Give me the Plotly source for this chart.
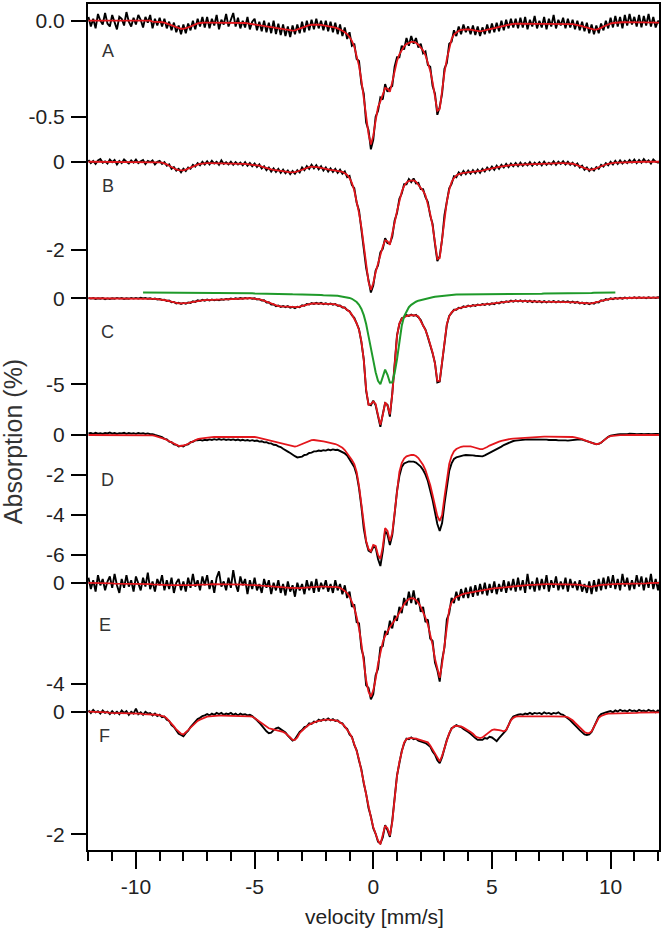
import numpy as np
import plotly.graph_objects as go

# velocity channels (mm/s), 0.1 mm/s step
velocity = np.round(np.arange(-12.0, 12.15, 0.1), 1)

A_data = [
 0.02,-0.03,0.01,-0.04,0.035,0.0,-0.02,0.04,-0.015,-0.03,
 0.03,-0.01,-0.045,0.02,0.01,-0.025,0.045,-0.005,-0.03,0.015,
 -0.02,0.03,0.005,-0.035,0.02,-0.01,0.03,-0.04,0.01,-0.025,
 0.015,-0.03,0.01,-0.04,-0.005,-0.05,-0.01,-0.06,-0.025,-0.07,
 -0.02,-0.065,-0.015,-0.05,0.0,-0.045,0.01,-0.03,0.02,-0.035,
 0.02,-0.04,0.01,-0.025,0.03,-0.045,0.005,-0.02,0.035,-0.03,
 0.01,0.04,-0.03,0.015,-0.04,0.0,-0.035,0.02,-0.045,-0.005,
 0.01,-0.05,-0.005,-0.055,0.0,-0.06,-0.01,-0.065,0.0,-0.07,
 -0.015,-0.075,-0.02,-0.08,-0.03,-0.085,-0.025,-0.07,-0.02,-0.065,
 -0.005,-0.06,0.0,-0.05,0.005,-0.045,0.01,-0.04,0.0,-0.05,
 0.0,-0.055,-0.005,-0.06,-0.01,-0.07,-0.02,-0.08,-0.035,-0.095,
 -0.06,-0.13,-0.12,-0.2,-0.21,-0.33,-0.38,-0.53,-0.57,-0.67,
 -0.62,-0.5,-0.47,-0.4,-0.41,-0.33,-0.37,-0.35,-0.34,-0.24,
 -0.19,-0.19,-0.13,-0.15,-0.09,-0.13,-0.08,-0.12,-0.09,-0.14,
 -0.12,-0.17,-0.16,-0.23,-0.24,-0.34,-0.38,-0.49,-0.45,-0.38,
 -0.25,-0.22,-0.12,-0.11,-0.05,-0.08,-0.03,-0.07,-0.02,-0.06,
 -0.03,-0.07,-0.025,-0.075,-0.03,-0.08,-0.035,-0.07,-0.02,-0.065,
 -0.015,-0.06,-0.01,-0.055,0.0,-0.05,0.005,-0.04,0.01,-0.035,
 0.01,-0.04,0.015,-0.035,0.02,-0.045,0.005,-0.03,0.025,-0.04,
 0.0,-0.035,0.02,-0.045,0.01,-0.03,0.03,-0.04,0.005,-0.025,
 0.015,-0.04,0.01,-0.035,0.005,-0.045,0.0,-0.05,-0.005,-0.055,
 -0.01,-0.065,-0.02,-0.07,-0.025,-0.065,-0.015,-0.05,0.0,-0.04,
 0.015,-0.035,0.025,-0.03,0.02,-0.04,0.03,-0.025,0.035,-0.02,
 0.02,-0.03,0.03,-0.035,0.025,-0.025,0.035,-0.03,0.02,-0.035,
 0.0,-0.02]

A_fit = [
 0,0,0,0,0,0,0,0,0,0,
 0,0,0,0,0,0,0,0,0,0,
 0,0,0,0,0,0,0,-0.005,-0.005,-0.005,
 -0.005,-0.008,-0.01,-0.015,-0.02,-0.025,-0.03,-0.035,-0.04,-0.042,
 -0.042,-0.04,-0.035,-0.03,-0.024,-0.018,-0.014,-0.012,-0.01,-0.01,
 -0.01,-0.01,-0.01,-0.01,-0.01,-0.01,-0.01,-0.01,-0.01,-0.01,
 -0.01,-0.01,-0.01,-0.01,-0.01,-0.01,-0.012,-0.014,-0.016,-0.018,
 -0.02,-0.022,-0.024,-0.026,-0.028,-0.03,-0.032,-0.034,-0.036,-0.038,
 -0.04,-0.042,-0.045,-0.048,-0.05,-0.052,-0.052,-0.05,-0.045,-0.04,
 -0.035,-0.03,-0.026,-0.023,-0.021,-0.02,-0.02,-0.021,-0.022,-0.024,
 -0.026,-0.028,-0.03,-0.033,-0.036,-0.04,-0.045,-0.052,-0.06,-0.07,
 -0.085,-0.105,-0.135,-0.18,-0.235,-0.31,-0.4,-0.5,-0.59,-0.645,
 -0.6,-0.52,-0.45,-0.42,-0.39,-0.35,-0.355,-0.37,-0.32,-0.26,
 -0.21,-0.175,-0.15,-0.133,-0.122,-0.115,-0.11,-0.11,-0.115,-0.125,
 -0.138,-0.155,-0.18,-0.215,-0.26,-0.32,-0.4,-0.47,-0.46,-0.36,
 -0.27,-0.2,-0.14,-0.095,-0.072,-0.06,-0.052,-0.048,-0.046,-0.045,
 -0.045,-0.046,-0.048,-0.05,-0.053,-0.055,-0.053,-0.05,-0.046,-0.042,
 -0.04,-0.037,-0.034,-0.031,-0.028,-0.025,-0.022,-0.02,-0.018,-0.016,
 -0.015,-0.015,-0.015,-0.015,-0.015,-0.015,-0.015,-0.015,-0.015,-0.015,
 -0.015,-0.015,-0.015,-0.015,-0.015,-0.015,-0.015,-0.015,-0.015,-0.015,
 -0.015,-0.015,-0.016,-0.017,-0.018,-0.02,-0.022,-0.025,-0.028,-0.032,
 -0.036,-0.04,-0.044,-0.046,-0.046,-0.043,-0.037,-0.03,-0.024,-0.019,
 -0.015,-0.012,-0.01,-0.009,-0.008,-0.008,-0.007,-0.007,-0.007,-0.007,
 -0.007,-0.007,-0.007,-0.008,-0.008,-0.008,-0.009,-0.009,-0.01,-0.01,
 -0.01,-0.01]

B_data = [
 0.04,-0.03,0.02,-0.05,0.03,0.06,-0.02,0.01,-0.04,0.05,
 -0.01,0.04,-0.06,0.02,-0.03,0.05,0.0,-0.04,0.03,-0.02,
 0.05,-0.03,0.01,0.04,-0.05,0.02,-0.01,0.03,-0.06,0.0,
 0.02,-0.05,-0.01,-0.09,-0.06,-0.16,-0.12,-0.2,-0.16,-0.24,
 -0.16,-0.21,-0.13,-0.16,-0.07,-0.11,-0.03,-0.08,0.0,-0.06,
 0.01,-0.06,0.02,-0.04,0.0,-0.07,0.03,-0.05,-0.01,-0.06,
 0.0,-0.07,-0.01,-0.06,-0.02,-0.08,-0.01,-0.09,-0.03,-0.1,
 -0.04,-0.12,-0.06,-0.15,-0.1,-0.19,-0.13,-0.22,-0.15,-0.23,
 -0.16,-0.25,-0.18,-0.26,-0.2,-0.28,-0.21,-0.27,-0.19,-0.24,
 -0.13,-0.19,-0.1,-0.16,-0.07,-0.15,-0.08,-0.17,-0.1,-0.2,
 -0.13,-0.22,-0.15,-0.23,-0.16,-0.25,-0.18,-0.27,-0.22,-0.35,
 -0.32,-0.53,-0.6,-0.93,-1.1,-1.53,-1.85,-2.4,-2.68,-2.96,
 -2.8,-2.46,-2.35,-2.05,-1.97,-1.73,-1.84,-1.85,-1.7,-1.33,
 -1.16,-0.84,-0.72,-0.51,-0.51,-0.39,-0.46,-0.38,-0.49,-0.48,
 -0.62,-0.62,-0.8,-0.91,-1.22,-1.41,-1.86,-2.25,-2.14,-1.76,
 -1.21,-0.94,-0.6,-0.5,-0.33,-0.35,-0.24,-0.3,-0.21,-0.28,
 -0.2,-0.27,-0.19,-0.26,-0.18,-0.25,-0.16,-0.22,-0.13,-0.19,
 -0.11,-0.18,-0.09,-0.16,-0.07,-0.13,-0.05,-0.12,-0.04,-0.1,
 -0.03,-0.1,-0.02,-0.09,-0.03,-0.08,-0.01,-0.09,-0.02,-0.07,
 -0.01,-0.08,0.0,-0.07,-0.02,-0.06,0.01,-0.07,0.0,-0.05,
 0.01,-0.06,0.0,-0.07,-0.02,-0.09,-0.04,-0.13,-0.09,-0.18,
 -0.13,-0.21,-0.15,-0.2,-0.12,-0.16,-0.07,-0.11,-0.03,-0.08,
 0.0,-0.06,0.02,-0.05,0.03,-0.04,0.02,-0.03,0.04,-0.02,
 0.05,-0.03,0.04,-0.02,0.06,-0.01,0.03,-0.04,0.05,0.0,
 -0.02,0.03]

B_fit = [
 0,0,0,0,0,0,0,0,0,0,
 0,0,0,0,0,0,0,0,0,0,
 0,0,0,0,0,0,0,0,-0.01,-0.01,
 -0.015,-0.02,-0.035,-0.06,-0.09,-0.12,-0.15,-0.175,-0.19,-0.2,
 -0.195,-0.18,-0.155,-0.13,-0.1,-0.08,-0.065,-0.05,-0.04,-0.035,
 -0.03,-0.03,-0.03,-0.03,-0.03,-0.03,-0.03,-0.03,-0.03,-0.03,
 -0.03,-0.032,-0.035,-0.038,-0.042,-0.046,-0.05,-0.055,-0.06,-0.065,
 -0.07,-0.08,-0.09,-0.11,-0.13,-0.15,-0.165,-0.175,-0.185,-0.19,
 -0.2,-0.205,-0.21,-0.22,-0.23,-0.24,-0.24,-0.235,-0.22,-0.2,
 -0.17,-0.145,-0.13,-0.12,-0.11,-0.11,-0.115,-0.125,-0.14,-0.155,
 -0.17,-0.18,-0.185,-0.19,-0.2,-0.205,-0.215,-0.23,-0.26,-0.3,
 -0.37,-0.48,-0.65,-0.88,-1.16,-1.48,-1.9,-2.35,-2.72,-2.9,
 -2.75,-2.5,-2.3,-2.1,-1.92,-1.78,-1.8,-1.88,-1.66,-1.38,
 -1.12,-0.88,-0.68,-0.55,-0.47,-0.43,-0.42,-0.42,-0.45,-0.52,
 -0.58,-0.66,-0.76,-0.95,-1.18,-1.45,-1.82,-2.2,-2.18,-1.72,
 -1.25,-0.9,-0.64,-0.46,-0.37,-0.31,-0.28,-0.26,-0.25,-0.245,
 -0.24,-0.235,-0.23,-0.225,-0.22,-0.21,-0.2,-0.185,-0.17,-0.155,
 -0.145,-0.135,-0.125,-0.115,-0.105,-0.095,-0.088,-0.082,-0.077,-0.073,
 -0.07,-0.067,-0.064,-0.061,-0.058,-0.055,-0.052,-0.05,-0.048,-0.046,
 -0.044,-0.042,-0.04,-0.038,-0.036,-0.034,-0.032,-0.03,-0.03,-0.03,
 -0.03,-0.03,-0.03,-0.035,-0.045,-0.06,-0.075,-0.095,-0.12,-0.145,
 -0.165,-0.178,-0.18,-0.17,-0.15,-0.125,-0.1,-0.08,-0.062,-0.048,
 -0.035,-0.028,-0.022,-0.018,-0.015,-0.012,-0.01,-0.008,-0.006,-0.005,
 -0.004,-0.003,-0.002,-0.001,0,0,0,0,0,0,
 0,0]

C_data = [
 0.02,-0.02,0.01,-0.04,0.0,-0.03,0.01,-0.05,-0.01,-0.04,
 0.0,-0.03,0.02,-0.02,0.01,-0.04,0.0,-0.03,0.02,-0.02,
 0.02,-0.02,0.03,-0.01,0.02,-0.03,0.0,-0.05,-0.02,-0.07,
 -0.04,-0.1,-0.08,-0.16,-0.13,-0.23,-0.21,-0.3,-0.26,-0.33,
 -0.27,-0.32,-0.24,-0.27,-0.18,-0.21,-0.12,-0.16,-0.09,-0.14,
 -0.08,-0.13,-0.07,-0.12,-0.08,-0.11,-0.06,-0.09,-0.04,-0.07,
 -0.02,-0.05,0.0,-0.04,0.01,-0.03,0.02,-0.02,0.02,-0.03,
 0.0,-0.07,-0.05,-0.13,-0.12,-0.24,-0.23,-0.36,-0.35,-0.46,
 -0.42,-0.5,-0.45,-0.52,-0.46,-0.55,-0.5,-0.57,-0.49,-0.52,
 -0.41,-0.44,-0.33,-0.36,-0.28,-0.33,-0.27,-0.33,-0.27,-0.34,
 -0.29,-0.36,-0.3,-0.37,-0.33,-0.43,-0.42,-0.54,-0.54,-0.69,
 -0.75,-0.99,-1.14,-1.49,-1.8,-2.56,-3.55,-5.38,-6.17,-6.22,
 -5.95,-6.22,-6.78,-7.48,-6.74,-6.1,-6.2,-6.88,-5.55,-3.66,
 -2.16,-1.5,-1.16,-1.12,-0.98,-1.03,-0.95,-1.02,-0.97,-1.1,
 -1.27,-1.59,-1.82,-2.26,-2.67,-3.2,-3.76,-4.9,-4.85,-3.75,
 -2.36,-1.55,-1.02,-0.86,-0.67,-0.67,-0.55,-0.58,-0.47,-0.51,
 -0.43,-0.48,-0.39,-0.44,-0.36,-0.41,-0.33,-0.39,-0.31,-0.37,
 -0.29,-0.34,-0.25,-0.3,-0.21,-0.26,-0.17,-0.22,-0.14,-0.2,
 -0.12,-0.19,-0.12,-0.2,-0.13,-0.21,-0.14,-0.22,-0.15,-0.23,
 -0.16,-0.24,-0.17,-0.24,-0.17,-0.23,-0.16,-0.24,-0.17,-0.23,
 -0.17,-0.23,-0.17,-0.25,-0.19,-0.27,-0.21,-0.3,-0.25,-0.33,
 -0.27,-0.34,-0.27,-0.32,-0.22,-0.24,-0.12,-0.15,-0.05,-0.09,
 0.0,-0.05,0.02,-0.03,0.03,-0.02,0.04,-0.01,0.05,0.0,
 0.06,0.0,0.06,0.01,0.05,0.0,0.06,0.01,0.05,0.02,
 0.06,0.02]

C_fit = [
 0,0,-0.01,-0.02,-0.02,-0.02,-0.01,-0.02,-0.03,-0.02,
 -0.02,-0.01,0,0,-0.01,-0.02,-0.02,-0.01,0,0,
 0,0,0,0,0,-0.01,-0.02,-0.03,-0.04,-0.05,
 -0.06,-0.08,-0.1,-0.13,-0.16,-0.2,-0.24,-0.27,-0.29,-0.3,
 -0.3,-0.29,-0.27,-0.24,-0.21,-0.18,-0.15,-0.13,-0.12,-0.11,
 -0.11,-0.1,-0.1,-0.1,-0.1,-0.09,-0.08,-0.07,-0.06,-0.05,
 -0.04,-0.03,-0.02,-0.02,-0.01,-0.01,0,0,0,-0.01,
 -0.02,-0.04,-0.07,-0.1,-0.15,-0.2,-0.26,-0.32,-0.38,-0.42,
 -0.45,-0.47,-0.48,-0.48,-0.49,-0.51,-0.53,-0.53,-0.52,-0.48,
 -0.44,-0.4,-0.36,-0.33,-0.31,-0.3,-0.3,-0.3,-0.3,-0.31,
 -0.32,-0.33,-0.33,-0.34,-0.36,-0.4,-0.45,-0.5,-0.57,-0.65,
 -0.78,-0.95,-1.17,-1.45,-1.84,-2.5,-3.6,-5.3,-6.2,-6.15,
 -6.0,-6.15,-6.8,-7.35,-6.8,-6.05,-6.25,-6.75,-5.6,-3.6,
 -2.2,-1.46,-1.2,-1.08,-1.02,-0.99,-0.98,-0.98,-1.0,-1.06,
 -1.3,-1.55,-1.85,-2.22,-2.7,-3.15,-3.8,-4.8,-4.8,-3.7,
 -2.4,-1.5,-1.05,-0.82,-0.7,-0.63,-0.58,-0.54,-0.5,-0.47,
 -0.46,-0.44,-0.42,-0.4,-0.39,-0.37,-0.36,-0.35,-0.34,-0.33,
 -0.32,-0.3,-0.28,-0.26,-0.24,-0.22,-0.2,-0.18,-0.17,-0.16,
 -0.15,-0.15,-0.15,-0.16,-0.16,-0.17,-0.17,-0.18,-0.18,-0.19,
 -0.19,-0.2,-0.2,-0.2,-0.2,-0.2,-0.2,-0.2,-0.2,-0.2,
 -0.2,-0.2,-0.2,-0.21,-0.22,-0.23,-0.24,-0.26,-0.28,-0.29,
 -0.3,-0.3,-0.3,-0.28,-0.25,-0.2,-0.15,-0.11,-0.08,-0.05,
 -0.03,-0.02,-0.01,0,0,0.01,0.01,0.02,0.02,0.02,
 0.03,0.03,0.03,0.03,0.03,0.03,0.03,0.03,0.03,0.03,
 0.04,0.04]

# green sub-component shown in panel C (only defined between about -9.7 and 10.2 mm/s)
C_component = [
 None,None,None,None,None,None,None,None,None,None,
 None,None,None,None,None,None,None,None,None,None,
 None,None,None,0.33,0.33,0.33,0.33,0.33,0.33,0.33,
 0.33,0.33,0.33,0.33,0.33,0.33,0.33,0.33,0.33,0.33,
 0.33,0.33,0.33,0.33,0.33,0.33,0.33,0.33,0.33,0.33,
 0.33,0.33,0.33,0.33,0.32,0.32,0.31,0.31,0.31,0.31,
 0.3,0.3,0.3,0.3,0.3,0.3,0.29,0.29,0.29,0.29,
 0.28,0.28,0.28,0.28,0.27,0.27,0.27,0.26,0.26,0.26,
 0.25,0.25,0.25,0.24,0.24,0.24,0.23,0.23,0.22,0.22,
 0.22,0.21,0.21,0.21,0.2,0.2,0.2,0.19,0.19,0.18,
 0.18,0.17,0.17,0.16,0.15,0.14,0.12,0.1,0.08,0.05,
 0.02,-0.03,-0.11,-0.22,-0.38,-0.62,-0.98,-1.5,-2.2,-3.0,
 -3.6,-4.3,-4.8,-5.0,-4.6,-4.15,-4.45,-4.9,-4.9,-4.35,
 -3.55,-2.45,-1.6,-1.05,-0.75,-0.52,-0.38,-0.28,-0.2,-0.14,
 -0.1,-0.06,-0.03,0.0,0.03,0.06,0.09,0.11,0.13,0.15,
 0.17,0.18,0.19,0.2,0.21,0.22,0.22,0.23,0.23,0.23,
 0.23,0.23,0.24,0.24,0.24,0.24,0.24,0.24,0.25,0.25,
 0.25,0.25,0.25,0.25,0.25,0.25,0.25,0.25,0.25,0.25,
 0.25,0.25,0.25,0.26,0.26,0.26,0.26,0.26,0.26,0.26,
 0.26,0.26,0.27,0.27,0.28,0.28,0.29,0.29,0.29,0.3,
 0.3,0.3,0.3,0.3,0.3,0.3,0.3,0.3,0.3,0.31,
 0.31,0.31,0.31,0.32,0.32,0.32,0.32,0.33,0.33,0.33,
 0.33,0.33,0.33,None,None,None,None,None,None,None,
 None,None,None,None,None,None,None,None,None,None,
 None,None]

D_data = [
 0.08,0.1,0.06,0.11,0.07,0.09,0.05,0.1,0.08,0.12,
 0.07,0.1,0.05,0.09,0.08,0.11,0.06,0.1,0.07,0.09,
 0.06,0.1,0.07,0.09,0.05,0.08,0.04,0.04,0.0,-0.03,
 -0.08,-0.1,-0.19,-0.22,-0.33,-0.36,-0.47,-0.49,-0.57,-0.54,
 -0.57,-0.49,-0.47,-0.36,-0.34,-0.27,-0.27,-0.24,-0.28,-0.24,
 -0.26,-0.22,-0.25,-0.21,-0.24,-0.2,-0.24,-0.21,-0.25,-0.22,
 -0.25,-0.22,-0.26,-0.23,-0.27,-0.24,-0.28,-0.25,-0.29,-0.26,
 -0.3,-0.28,-0.33,-0.31,-0.37,-0.36,-0.42,-0.42,-0.49,-0.5,
 -0.57,-0.6,-0.69,-0.74,-0.83,-0.9,-1.0,-1.06,-1.12,-1.1,
 -1.08,-1.0,-0.98,-0.9,-0.88,-0.82,-0.82,-0.78,-0.8,-0.76,
 -0.78,-0.73,-0.76,-0.72,-0.75,-0.74,-0.8,-0.82,-0.92,-1.02,
 -1.22,-1.38,-1.6,-1.98,-2.66,-3.58,-4.68,-5.35,-5.78,-5.86,
 -5.6,-5.62,-6.2,-6.55,-5.82,-4.8,-4.98,-5.5,-5.0,-3.95,
 -2.8,-2.05,-1.6,-1.42,-1.35,-1.32,-1.33,-1.33,-1.38,-1.47,
 -1.58,-1.75,-1.98,-2.3,-2.72,-3.25,-3.85,-4.45,-4.8,-4.4,
 -3.45,-2.5,-1.8,-1.42,-1.2,-1.12,-1.08,-1.05,-1.02,-1.0,
 -1.0,-1.0,-1.02,-1.04,-1.06,-1.08,-1.07,-1.02,-0.96,-0.9,
 -0.85,-0.8,-0.74,-0.66,-0.58,-0.5,-0.44,-0.38,-0.34,-0.3,
 -0.28,-0.26,-0.25,-0.24,-0.23,-0.22,-0.22,-0.21,-0.22,-0.22,
 -0.23,-0.22,-0.24,-0.23,-0.25,-0.24,-0.26,-0.25,-0.27,-0.26,
 -0.28,-0.27,-0.28,-0.26,-0.25,-0.22,-0.21,-0.21,-0.23,-0.27,
 -0.32,-0.36,-0.41,-0.44,-0.46,-0.44,-0.39,-0.28,-0.17,-0.09,
 -0.03,0.0,0.02,0.03,0.04,0.03,0.05,0.04,0.06,0.04,
 0.05,0.04,0.06,0.05,0.04,0.06,0.05,0.04,0.06,0.05,
 0.05,0.04]

D_fit = [
 0,0,0,0,0,0,0,0,0,0,
 0,0,0,0,0,0,0,0,0,0,
 0,0,0,0,0,0,0,-0.02,-0.04,-0.07,
 -0.1,-0.14,-0.19,-0.25,-0.31,-0.38,-0.45,-0.5,-0.54,-0.55,
 -0.54,-0.5,-0.44,-0.38,-0.31,-0.25,-0.21,-0.18,-0.16,-0.14,
 -0.13,-0.12,-0.11,-0.1,-0.1,-0.09,-0.09,-0.08,-0.08,-0.08,
 -0.08,-0.08,-0.08,-0.08,-0.08,-0.08,-0.08,-0.08,-0.08,-0.08,
 -0.1,-0.12,-0.15,-0.18,-0.21,-0.24,-0.27,-0.3,-0.33,-0.36,
 -0.38,-0.4,-0.42,-0.45,-0.49,-0.53,-0.57,-0.58,-0.55,-0.5,
 -0.44,-0.38,-0.33,-0.29,-0.26,-0.25,-0.26,-0.28,-0.3,-0.32,
 -0.34,-0.36,-0.38,-0.41,-0.45,-0.5,-0.56,-0.64,-0.75,-0.9,
 -1.08,-1.25,-1.45,-1.85,-2.55,-3.5,-4.6,-5.3,-5.7,-5.82,
 -5.5,-5.55,-6.0,-6.2,-5.6,-4.65,-4.8,-5.3,-4.9,-3.8,
 -2.6,-1.85,-1.4,-1.18,-1.07,-1.02,-1.0,-1.0,-1.05,-1.15,
 -1.3,-1.5,-1.75,-2.08,-2.5,-3.0,-3.55,-4.05,-4.3,-4.0,
 -3.1,-2.15,-1.45,-1.05,-0.82,-0.7,-0.63,-0.59,-0.57,-0.56,
 -0.56,-0.57,-0.6,-0.64,-0.68,-0.71,-0.71,-0.67,-0.6,-0.53,
 -0.47,-0.42,-0.37,-0.33,-0.29,-0.26,-0.23,-0.21,-0.19,-0.18,
 -0.17,-0.16,-0.15,-0.14,-0.13,-0.12,-0.11,-0.1,-0.1,-0.09,
 -0.09,-0.09,-0.08,-0.08,-0.08,-0.08,-0.08,-0.08,-0.08,-0.08,
 -0.08,-0.08,-0.08,-0.09,-0.1,-0.12,-0.14,-0.17,-0.21,-0.26,
 -0.31,-0.36,-0.4,-0.43,-0.45,-0.44,-0.38,-0.28,-0.17,-0.1,
 -0.06,-0.04,-0.03,-0.02,-0.01,-0.01,0,0,0,0,
 0,0,0,0,0,0,0,0,0,0,
 0,0]

E_data = [
 0.2,-0.25,0.1,-0.35,0.3,-0.1,0.15,-0.3,0.05,0.25,
 -0.2,0.35,-0.1,-0.4,0.15,-0.2,0.3,-0.15,0.1,-0.35,
 0.25,-0.05,-0.3,0.2,-0.15,0.4,-0.25,0.05,-0.35,0.15,
 -0.1,0.3,-0.3,0.1,-0.25,0.2,-0.4,0.0,0.15,-0.3,
 0.05,-0.35,0.2,-0.2,0.35,-0.15,0.1,-0.3,0.25,-0.1,
 0.3,-0.25,0.1,-0.4,0.2,0.45,-0.15,0.05,-0.3,0.2,
 -0.2,0.5,-0.05,-0.35,0.25,-0.1,0.15,-0.45,0.1,-0.25,
 0.2,-0.3,-0.05,-0.4,0.15,-0.2,0.1,-0.45,0.0,-0.3,
 0.1,-0.4,-0.05,-0.5,0.05,-0.35,-0.1,-0.55,0.0,-0.3,
 -0.05,-0.45,0.1,-0.3,0.05,-0.4,0.15,-0.35,0.0,-0.25,
 0.1,-0.35,-0.05,-0.4,0.1,-0.3,-0.05,-0.45,-0.1,-0.6,
 -0.35,-0.95,-0.85,-1.55,-1.6,-2.6,-2.95,-4.05,-4.15,-4.6,
 -4.4,-3.65,-3.4,-2.55,-2.5,-1.9,-2.05,-1.5,-1.8,-1.3,
 -1.5,-0.95,-1.2,-0.6,-0.9,-0.35,-0.8,-0.3,-0.85,-0.6,
 -1.15,-0.95,-1.55,-1.45,-2.2,-2.3,-3.15,-3.45,-3.9,-3.05,
 -2.55,-1.45,-1.2,-0.6,-0.8,-0.35,-0.7,-0.25,-0.6,-0.2,
 -0.6,-0.15,-0.55,-0.1,-0.5,-0.05,-0.45,0.0,-0.5,-0.05,
 -0.4,0.05,-0.45,-0.05,-0.35,0.1,-0.4,0.05,-0.3,0.15,
 -0.35,0.2,-0.3,0.1,-0.4,0.35,-0.25,0.05,-0.35,0.2,
 -0.3,0.15,-0.25,0.3,-0.35,0.1,-0.2,0.25,-0.3,0.05,
 -0.25,0.2,-0.35,0.15,-0.2,0.05,-0.3,0.1,-0.35,-0.05,
 -0.4,0.05,-0.45,0.1,-0.35,0.15,-0.3,0.2,-0.25,0.25,
 -0.2,0.3,-0.25,0.15,-0.3,0.35,-0.15,0.2,-0.3,0.1,
 -0.25,0.3,-0.15,0.25,-0.3,0.2,-0.2,0.35,-0.25,0.15,
 -0.3,0.2]

E_fit = [
 0,0,0,0,0,-0.01,-0.01,-0.01,-0.02,-0.02,
 -0.02,-0.03,-0.03,-0.03,-0.04,-0.04,-0.04,-0.05,-0.05,-0.05,
 -0.05,-0.05,-0.05,-0.05,-0.05,-0.05,-0.05,-0.06,-0.06,-0.07,
 -0.07,-0.08,-0.08,-0.09,-0.09,-0.1,-0.1,-0.11,-0.11,-0.11,
 -0.11,-0.11,-0.1,-0.1,-0.09,-0.08,-0.08,-0.07,-0.07,-0.06,
 -0.06,-0.06,-0.05,-0.05,-0.05,-0.05,-0.05,-0.05,-0.05,-0.05,
 -0.05,-0.05,-0.05,-0.06,-0.06,-0.07,-0.07,-0.08,-0.08,-0.09,
 -0.09,-0.1,-0.1,-0.11,-0.12,-0.12,-0.13,-0.14,-0.14,-0.15,
 -0.15,-0.16,-0.17,-0.18,-0.19,-0.2,-0.2,-0.21,-0.21,-0.21,
 -0.2,-0.19,-0.18,-0.17,-0.16,-0.15,-0.15,-0.15,-0.15,-0.15,
 -0.15,-0.15,-0.15,-0.15,-0.16,-0.17,-0.2,-0.25,-0.32,-0.41,
 -0.55,-0.75,-1.0,-1.35,-1.8,-2.4,-3.15,-3.85,-4.3,-4.5,
 -4.25,-3.8,-3.2,-2.7,-2.35,-2.1,-1.9,-1.75,-1.62,-1.5,
 -1.35,-1.18,-1.0,-0.85,-0.72,-0.64,-0.61,-0.62,-0.68,-0.79,
 -0.95,-1.15,-1.38,-1.65,-2.0,-2.45,-3.0,-3.4,-3.75,-3.2,
 -2.4,-1.6,-1.05,-0.78,-0.64,-0.56,-0.51,-0.47,-0.44,-0.42,
 -0.41,-0.39,-0.37,-0.35,-0.33,-0.31,-0.29,-0.27,-0.25,-0.24,
 -0.23,-0.22,-0.21,-0.2,-0.19,-0.18,-0.17,-0.16,-0.15,-0.14,
 -0.12,-0.11,-0.1,-0.1,-0.09,-0.09,-0.08,-0.08,-0.07,-0.07,
 -0.06,-0.06,-0.06,-0.05,-0.05,-0.05,-0.05,-0.05,-0.05,-0.05,
 -0.05,-0.05,-0.05,-0.05,-0.05,-0.06,-0.07,-0.08,-0.1,-0.12,
 -0.14,-0.15,-0.15,-0.14,-0.12,-0.1,-0.08,-0.07,-0.06,-0.05,
 -0.05,-0.05,-0.04,-0.04,-0.04,-0.04,-0.03,-0.03,-0.03,-0.03,
 -0.03,-0.03,-0.02,-0.02,-0.02,-0.02,-0.01,-0.01,-0.01,-0.01,
 0,0]

F_data = [
 0.02,-0.02,0.03,-0.01,0.01,-0.03,0.02,-0.02,0.0,-0.04,
 0.01,-0.03,0.0,-0.04,0.02,-0.02,0.01,-0.05,0.0,-0.03,
 0.05,-0.04,-0.01,-0.05,0.0,-0.03,-0.02,-0.06,-0.03,-0.07,
 -0.05,-0.09,-0.08,-0.13,-0.15,-0.22,-0.25,-0.3,-0.36,-0.38,
 -0.4,-0.35,-0.31,-0.25,-0.2,-0.16,-0.12,-0.1,-0.07,-0.06,
 -0.04,-0.06,-0.03,-0.05,-0.02,-0.04,-0.02,-0.05,-0.03,-0.04,
 -0.02,-0.05,-0.03,-0.06,-0.03,-0.05,-0.04,-0.06,-0.05,-0.07,
 -0.1,-0.14,-0.18,-0.23,-0.28,-0.32,-0.35,-0.34,-0.3,-0.27,
 -0.26,-0.29,-0.32,-0.34,-0.39,-0.43,-0.47,-0.45,-0.4,-0.33,
 -0.3,-0.25,-0.24,-0.19,-0.2,-0.16,-0.17,-0.13,-0.15,-0.12,
 -0.14,-0.11,-0.14,-0.12,-0.15,-0.14,-0.18,-0.19,-0.25,-0.28,
 -0.37,-0.41,-0.54,-0.63,-0.8,-0.94,-1.17,-1.34,-1.57,-1.71,
 -1.9,-1.99,-2.12,-2.15,-2.05,-1.85,-1.93,-2.04,-1.78,-1.42,
 -1.04,-0.84,-0.64,-0.52,-0.44,-0.45,-0.42,-0.45,-0.44,-0.47,
 -0.48,-0.5,-0.51,-0.54,-0.57,-0.65,-0.7,-0.79,-0.84,-0.74,
 -0.58,-0.46,-0.36,-0.27,-0.25,-0.22,-0.24,-0.25,-0.28,-0.3,
 -0.33,-0.36,-0.4,-0.43,-0.46,-0.46,-0.46,-0.43,-0.44,-0.41,
 -0.42,-0.45,-0.48,-0.43,-0.38,-0.33,-0.3,-0.22,-0.13,-0.08,
 -0.06,-0.05,-0.04,-0.05,-0.03,-0.04,-0.02,-0.04,-0.02,-0.03,
 -0.02,-0.04,-0.01,-0.03,-0.02,-0.04,-0.02,-0.03,-0.01,-0.04,
 -0.05,-0.08,-0.1,-0.14,-0.18,-0.23,-0.26,-0.3,-0.34,-0.37,
 -0.38,-0.37,-0.33,-0.24,-0.15,-0.08,-0.04,-0.02,-0.01,0.0,
 0.01,-0.01,0.02,0.0,0.03,0.01,0.02,0.0,0.03,0.01,
 0.02,0.0,0.03,0.01,0.02,0.0,0.03,0.01,0.02,-0.01,
 0.02,0.0]

F_fit = [
 0,0,0,0,-0.01,-0.01,-0.01,-0.01,-0.01,-0.02,
 -0.02,-0.02,-0.02,-0.02,-0.02,-0.02,-0.02,-0.03,-0.03,-0.03,
 -0.03,-0.03,-0.03,-0.04,-0.04,-0.04,-0.04,-0.05,-0.05,-0.05,
 -0.06,-0.07,-0.08,-0.11,-0.15,-0.2,-0.24,-0.29,-0.33,-0.36,
 -0.37,-0.34,-0.3,-0.26,-0.22,-0.18,-0.15,-0.13,-0.11,-0.09,
 -0.08,-0.075,-0.07,-0.065,-0.065,-0.065,-0.065,-0.065,-0.07,-0.07,
 -0.07,-0.07,-0.07,-0.07,-0.07,-0.07,-0.075,-0.075,-0.076,-0.08,
 -0.1,-0.13,-0.16,-0.19,-0.22,-0.25,-0.27,-0.28,-0.29,-0.3,
 -0.3,-0.31,-0.33,-0.35,-0.38,-0.42,-0.46,-0.46,-0.42,-0.35,
 -0.31,-0.27,-0.24,-0.21,-0.19,-0.18,-0.16,-0.15,-0.14,-0.14,
 -0.13,-0.13,-0.13,-0.13,-0.14,-0.15,-0.17,-0.2,-0.24,-0.29,
 -0.35,-0.42,-0.52,-0.64,-0.78,-0.95,-1.15,-1.35,-1.55,-1.72,
 -1.88,-2.0,-2.1,-2.16,-2.02,-1.86,-1.9,-2.02,-1.8,-1.4,
 -1.05,-0.82,-0.65,-0.5,-0.45,-0.43,-0.43,-0.43,-0.44,-0.45,
 -0.46,-0.47,-0.48,-0.5,-0.55,-0.62,-0.68,-0.76,-0.81,-0.72,
 -0.6,-0.47,-0.35,-0.28,-0.24,-0.23,-0.23,-0.24,-0.26,-0.28,
 -0.3,-0.33,-0.36,-0.4,-0.42,-0.43,-0.42,-0.39,-0.36,-0.33,
 -0.3,-0.29,-0.29,-0.3,-0.31,-0.32,-0.3,-0.22,-0.14,-0.1,
 -0.08,-0.076,-0.075,-0.075,-0.075,-0.075,-0.075,-0.075,-0.075,-0.075,
 -0.075,-0.075,-0.075,-0.075,-0.075,-0.075,-0.075,-0.075,-0.075,-0.075,
 -0.076,-0.08,-0.09,-0.11,-0.14,-0.18,-0.22,-0.26,-0.3,-0.33,
 -0.35,-0.35,-0.32,-0.25,-0.16,-0.1,-0.07,-0.05,-0.04,-0.03,
 -0.03,-0.03,-0.03,-0.02,-0.02,-0.02,-0.02,-0.02,-0.02,-0.02,
 -0.02,-0.02,-0.015,-0.015,-0.015,-0.015,-0.01,-0.01,-0.01,-0.01,
 -0.01,-0.01]

panel_labels = ["A", "B", "C", "D", "E", "F"]
panel_data = [A_data, B_data, C_data, D_data, E_data, F_data]
panel_fit = [A_fit, B_fit, C_fit, D_fit, E_fit, F_fit]
tick_values = [[0, -0.5], [0, -2], [0, -5], [0, -2, -4, -6], [0, -4], [0, -2]]
tick_texts = [["0.0", "-0.5"], ["0", "-2"], ["0", "-5"], ["0", "-2", "-4", "-6"], ["0", "-4"], ["0", "-2"]]
x_ticks = [-10, -5, 0, 5, 10]

# axis ranges that place each spectrum in its own band of the shared frame
y_ranges = [[-4.319, 0.087], [-15.58, 3.571], [-32.08, 17.11],
            [-20.75, 21.55], [-10.55, 22.85], [-2.255, 11.54]]
label_y = [-0.158, -0.55, -1.96, -2.25, -1.67, -0.396]
label_x = [-11.18, -11.18, -11.18, -11.18, -11.31, -11.31]

FONT = "Liberation Sans, Arial, sans-serif"
BLACK = "#000000"
RED = "#e3161c"
GREEN = "#1f9a2a"

fig = go.Figure()
for i, (lab, dat, fit) in enumerate(zip(panel_labels, panel_data, panel_fit)):
    yref = "y" if i == 0 else f"y{i+1}"
    fig.add_trace(go.Scatter(x=velocity, y=dat, mode="lines",
                             line=dict(color=BLACK, width=1.9), yaxis=yref,
                             showlegend=False, hoverinfo="skip"))
    fig.add_trace(go.Scatter(x=velocity, y=fit, mode="lines",
                             line=dict(color=RED, width=1.8), yaxis=yref,
                             showlegend=False, hoverinfo="skip"))
    if lab == "C":
        fig.add_trace(go.Scatter(x=velocity, y=C_component, mode="lines",
                                 line=dict(color=GREEN, width=2), yaxis=yref,
                                 showlegend=False, hoverinfo="skip", connectgaps=False))

layout = dict(
    width=666, height=929,
    margin=dict(l=88, r=7, t=4, b=79, autoexpand=False),
    paper_bgcolor="white", plot_bgcolor="white",
    font=dict(family=FONT, color="#222222", size=21),
    xaxis=dict(range=[-12.02, 12.04], showgrid=False, zeroline=False, automargin=False,
               showline=True, linecolor=BLACK, linewidth=2, mirror=True,
               ticks="outside", ticklen=17, tickwidth=1.5, tickcolor=BLACK,
               tickvals=x_ticks, ticktext=[str(v) for v in x_ticks],
               tickfont=dict(size=21, family=FONT, color="#222222"),
               minor=dict(dtick=1, tick0=0, ticks="outside", ticklen=9,
                          tickwidth=1.5, tickcolor=BLACK, showgrid=False)),
    showlegend=False,
)
for i in range(6):
    key = "yaxis" if i == 0 else f"yaxis{i+1}"
    ax = dict(range=y_ranges[i], showgrid=False, zeroline=False, automargin=False,
              showline=True, linecolor=BLACK, linewidth=2,
              ticks="outside", ticklen=15, tickwidth=1.5, tickcolor=BLACK,
              tickvals=tick_values[i], ticktext=tick_texts[i],
              tickfont=dict(size=21, family=FONT, color="#222222"),
              ticklabelstandoff=2, side="left")
    if i == 0:
        ax["mirror"] = True
    else:
        ax["overlaying"] = "y"
    layout[key] = ax
fig.update_layout(**layout)

for i, lab in enumerate(panel_labels):
    yref = "y" if i == 0 else f"y{i+1}"
    fig.add_annotation(x=label_x[i], y=label_y[i], xref="x", yref=yref,
                       text=lab, showarrow=False, xanchor="center", yanchor="middle",
                       font=dict(size=18, family=FONT, color="#333333"))

fig.add_annotation(x=-0.13, y=0.483, xref="paper", yref="paper",
                   text="Absorption (%)", textangle=-90, showarrow=False,
                   xanchor="center", yanchor="middle",
                   font=dict(size=25, family=FONT, color="#333333"))
fig.add_annotation(x=0.501, y=-0.079, xref="paper", yref="paper",
                   text="velocity [mm/s]", showarrow=False,
                   xanchor="center", yanchor="middle",
                   font=dict(size=21, family=FONT, color="#222222"))

fig.write_html("out.html", config={"displayModeBar": False},
               post_script="document.body.style.margin='0';document.body.style.overflow='hidden';")
